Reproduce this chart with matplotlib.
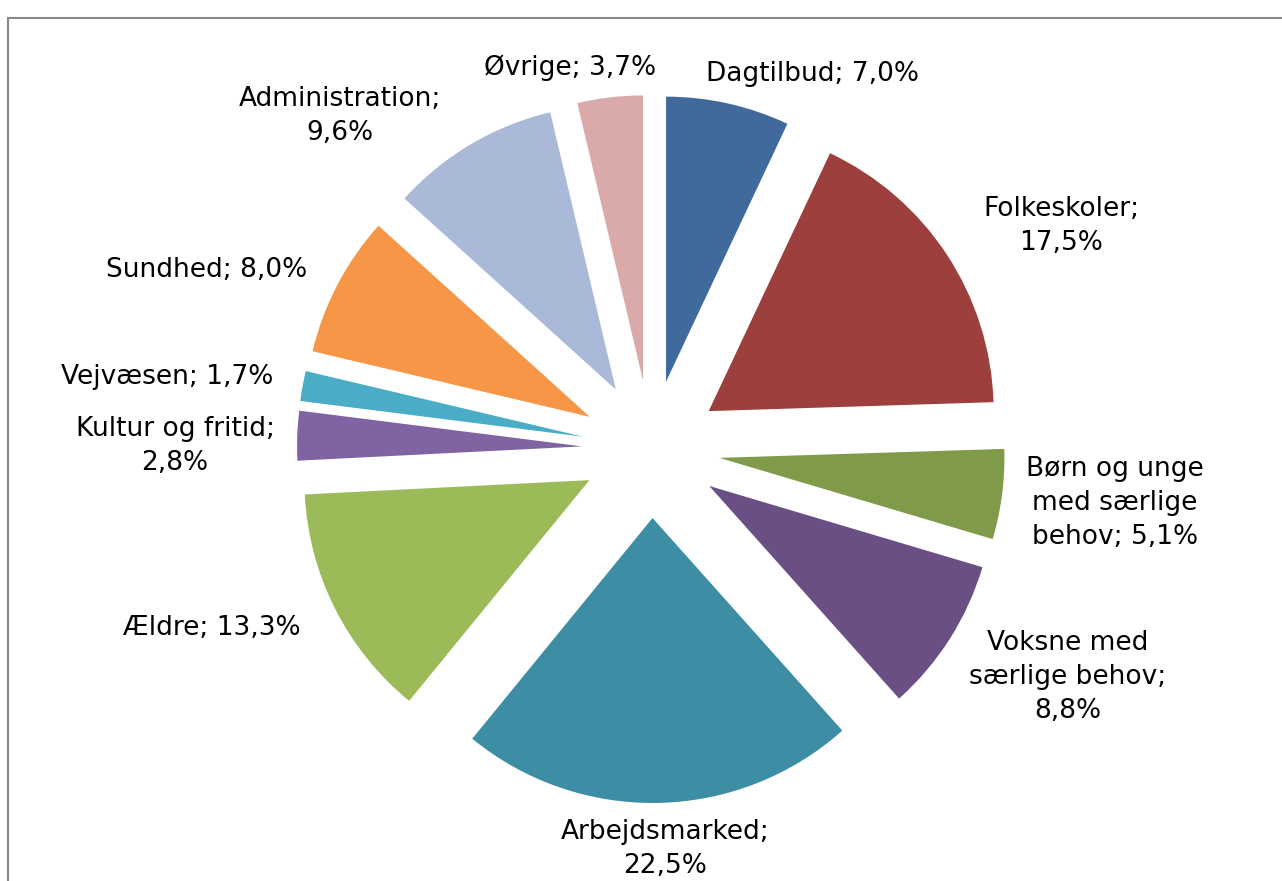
import matplotlib
matplotlib.use('Agg')
import matplotlib.pyplot as plt
from matplotlib.patches import Rectangle

# shares of the budget (percent), clockwise from 12 o'clock
labels = ['Dagtilbud; 7,0%', 'Folkeskoler;\n17,5%', 'Børn og unge\nmed særlige\nbehov; 5,1%',
          'Voksne med\nsærlige behov;\n8,8%', 'Arbejdsmarked;\n22,5%', 'Ældre; 13,3%',
          'Kultur og fritid;\n2,8%', 'Vejvæsen; 1,7%', 'Sundhed; 8,0%',
          'Administration;\n9,6%', 'Øvrige; 3,7%']
values = [7.0, 17.5, 5.1, 8.8, 22.5, 13.3, 2.8, 1.7, 8.0, 9.6, 3.7]
colors = ['#3f6a9b', '#9c3f3d', '#7f9a48', '#6a4f85', '#3d8ea5', '#9bbb59',
          '#8064a2', '#4bacc6', '#f79646', '#aab9d8', '#d9aaa9']
# label centres in pixel coordinates (y from top)
label_pos = [(812, 74), (1061, 226), (1115, 503), (1068, 677), (665, 849), (212, 628),
             (175, 446), (167, 377), (207, 270), (340, 116), (570, 68)]

W, H = 1282, 881
fig = plt.figure(figsize=(W / 100, H / 100), dpi=100)
ax = fig.add_axes([0, 0, 1, 1])
ax.set_xlim(0, W)
ax.set_ylim(0, H)
ax.axis('off')

ax.add_patch(Rectangle((8, -5), W, H - 18 + 5, fill=False, edgecolor='#888888', linewidth=1.5))

# explode is in data (pixel) units here
ax.pie(values, colors=colors, startangle=90, counterclock=False,
       center=(651, H - 449), radius=285, explode=[69] * len(values),
       wedgeprops=dict(linewidth=0))

for lab, (x, y) in zip(labels, label_pos):
    ax.text(x, H - y, lab, ha='center', va='center', fontsize=19,
            family='DejaVu Sans', linespacing=1.38)

ax.set_xlim(0, W)
ax.set_ylim(0, H)
fig.savefig('out.png', dpi=100)
